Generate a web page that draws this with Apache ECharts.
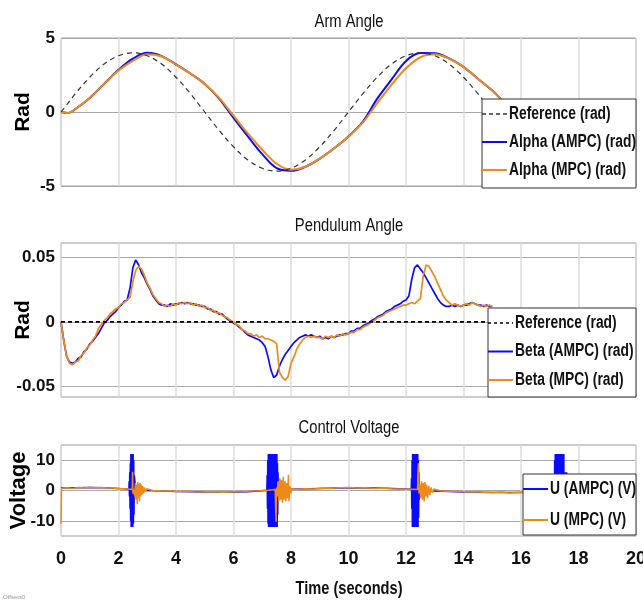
<!doctype html>
<html>
<head>
<meta charset="utf-8">
<title>Arm / Pendulum / Control Voltage</title>
<style>
html, body { margin: 0; padding: 0; background: #fff; }
#main { width: 643px; height: 602px; }
</style>
</head>
<body>
<div id="main"></div>
<script src="https://cdn.jsdelivr.net/npm/echarts@6/dist/echarts.min.js"></script>
<script>
var SANS = "'Liberation Sans', Arial, sans-serif";
var BLUE = '#0a0aff';
var ORANGE = '#ec8b1a';

// ---- Arm angle (rad) ----
var armTime = [0, 0.25, 0.5, 1, 1.5, 2, 2.5, 3, 3.5, 4, 4.5, 5, 5.5, 6, 6.5, 7, 7.5, 8, 8.5, 9, 9.5,
    10, 10.5, 11, 11.5, 12, 12.5, 13, 13.5, 14, 14.5, 15, 15.5, 16, 16.5, 17, 17.5];
var armRef = [0, 0.62, 1.24, 2.35, 3.24, 3.80, 4.00, 3.80, 3.24, 2.35, 1.24, 0, -1.24, -2.35, -3.24, -3.80, -4.00,
    -3.80, -3.24, -2.35, -1.24, 0, 1.24, 2.35, 3.24, 3.80, 4.00, 3.80, 3.24, 2.35, 1.24, 0, -1.24, -2.35, -3.24, -3.80, -4.00];
var armAmpc = [0, -0.07, 0.2, 0.95, 1.9, 2.85, 3.6, 4.0, 3.78, 3.22, 2.6, 1.9, 0.9, -0.4, -1.65, -2.85, -3.8,
    -3.97, -3.7, -3.15, -2.45, -1.65, -0.65, 0.9, 2.2, 3.45, 3.98, 3.97, 3.62, 3.05, 2.25, 1.45, 0.45, -0.7, -1.9, -3.0, -3.7];
var armMpc = [0, -0.07, 0.2, 0.95, 1.9, 2.8, 3.45, 3.9, 3.75, 3.2, 2.6, 1.9, 0.95, -0.25, -1.45, -2.55, -3.5,
    -3.9, -3.7, -3.15, -2.45, -1.65, -0.7, 0.6, 1.85, 2.95, 3.7, 3.9, 3.6, 3.05, 2.25, 1.45, 0.45, -0.7, -1.9, -3.0, -3.7];

// ---- Pendulum angle (rad), sampled every 0.1 s from 0 to 15 s ----
var betaStep = 0.1;
var betaAmpc = [
    0, -0.015, -0.027, -0.031, -0.032, -0.031, -0.028, -0.027, -0.023, -0.021,
    -0.017, -0.015, -0.012, -0.009, -0.005, -0.001, 0.001, 0.004, 0.006, 0.008,
    0.011, 0.013, 0.016, 0.017, 0.026, 0.042, 0.048, 0.044, 0.038, 0.034,
    0.029, 0.025, 0.020, 0.017, 0.014, 0.013, 0.013, 0.012, 0.014, 0.013,
    0.014, 0.014, 0.015, 0.014, 0.015, 0.014, 0.014, 0.013, 0.013, 0.012,
    0.012, 0.010, 0.010, 0.008, 0.008, 0.006, 0.006, 0.004, 0.002, 0.001,
    -0.001, -0.002, -0.004, -0.006, -0.008, -0.010, -0.011, -0.012, -0.013, -0.014,
    -0.016, -0.019, -0.027, -0.037, -0.043, -0.041, -0.034, -0.029, -0.025, -0.022,
    -0.019, -0.016, -0.014, -0.012, -0.011, -0.010, -0.011, -0.010, -0.011, -0.012,
    -0.011, -0.013, -0.012, -0.013, -0.011, -0.012, -0.011, -0.010, -0.010, -0.009,
    -0.009, -0.007, -0.007, -0.005, -0.005, -0.003, -0.002, -0.001, 0.001, 0.002,
    0.004, 0.005, 0.006, 0.008, 0.009, 0.010, 0.012, 0.013, 0.014, 0.016,
    0.017, 0.020, 0.033, 0.042, 0.044, 0.041, 0.038, 0.034, 0.030, 0.026,
    0.022, 0.018, 0.015, 0.013, 0.012, 0.012, 0.013, 0.012, 0.013, 0.012,
    0.013, 0.013, 0.014, 0.015, 0.014, 0.013, 0.013, 0.012, 0.013, 0.012,
    0.012
];
var betaMpc = [
    0, -0.015, -0.027, -0.032, -0.033, -0.031, -0.030, -0.026, -0.024, -0.020,
    -0.018, -0.014, -0.011, -0.005, -0.002, 0.001, 0.003, 0.006, 0.008, 0.010,
    0.011, 0.014, 0.015, 0.017, 0.019, 0.031, 0.040, 0.043, 0.041, 0.036,
    0.030, 0.026, 0.021, 0.018, 0.015, 0.014, 0.012, 0.013, 0.012, 0.014,
    0.013, 0.015, 0.014, 0.015, 0.014, 0.015, 0.013, 0.014, 0.012, 0.013,
    0.011, 0.011, 0.009, 0.009, 0.007, 0.007, 0.005, 0.004, 0.003, 0.001,
    0.000, -0.002, -0.003, -0.006, -0.007, -0.009, -0.009, -0.011, -0.010, -0.012,
    -0.011, -0.013, -0.013, -0.014, -0.015, -0.017, -0.039, -0.043, -0.045, -0.042,
    -0.032, -0.027, -0.021, -0.017, -0.014, -0.012, -0.011, -0.012, -0.011, -0.012,
    -0.012, -0.013, -0.011, -0.012, -0.011, -0.012, -0.010, -0.011, -0.009, -0.010,
    -0.009, -0.008, -0.008, -0.006, -0.006, -0.004, -0.003, -0.002, 0.000, 0.001,
    0.003, 0.004, 0.005, 0.007, 0.008, 0.009, 0.010, 0.011, 0.012, 0.013,
    0.013, 0.014, 0.015, 0.014, 0.016, 0.018, 0.036, 0.044, 0.043, 0.039,
    0.035, 0.030, 0.025, 0.020, 0.017, 0.015, 0.013, 0.014, 0.013, 0.012,
    0.013, 0.014, 0.013, 0.015, 0.014, 0.013, 0.012, 0.013, 0.012, 0.013,
    0.012
];
var betaRef = [[0, 0], [17.5, 0]];

// ---- Control voltage (V) ----
var uAmpcBase = [[0, 0.8], [0.5, 0.9], [1.0, 1.0], [1.5, 0.9], [2.0, 0.7], [2.36, 0.4],
    [2.6, 0.2], [3.0, 0], [4.0, -0.3], [5.0, -0.5], [6.0, -0.6], [6.5, -0.4], [7.0, -0.1], [7.16, 0.1],
    [7.6, 0.3], [8.0, 0.4], [9.0, 0.7], [10.0, 0.9], [11.0, 0.8], [12.0, 0.5], [12.18, 0.4],
    [12.5, 0.1], [13.0, -0.2], [14.0, -0.5], [15.0, -0.7], [16.0, -0.7], [17.0, -0.3], [17.14, 0],
    [17.62, 0]];
// saturated bursts, one sample every 0.01 s from the start time
var burstStep = 0.01;
var burstStart = [2.37, 7.17, 12.19, 17.15];
var burst1 = [3, -2, 6, -6, 9, -10, 12, -12, 12, -12, 12, -12, 12, -12, 12, -11, 10, -8, 5];
var burst2 = [5, -6, 10, -11, 12, -12, 12, -12, 12, -12, 12, -12, 12, -12, 12, -12, 12, -12, 12, -12,
    12, -12, 12, -12, 12, -12, 12, -12, 12, -12, 12, -12, 12, -12, 12, -12, 9, -8, 6, -3];
var burst3 = [4, -6, 10, -12, 12, -12, 12, -12, 12, -12, 12, -12, 12, -12, 12, -12, 12, -12, 12, -12,
    12, -12, 12, -12, 10, -9, 6, -3];
var burst4 = [4, -6, 10, -12, 12, -12, 12, -12, 12, -12, 12, -12, 12, -12, 12, -12, 12, -12, 12, -12,
    12, -12, 12, -12, 12, -12, 12, -12, 12, -12, 12, -12, 12, -12, 12, -12,
    6, -6, 6, -6, 6, -6, 6, -6, 6, -6];
var uMpc = [[0, -11], [0.02, 0.7], [0.2, 0.9], [0.4, 0.7], [0.6, 1.0], [0.8, 0.8], [1.0, 1.1], [1.2, 0.9],
    [1.4, 1.0], [1.6, 0.8], [1.8, 0.8], [2.0, 0.6], [2.2, 0.6], [2.4, 0.4], [2.48, 0.3], [2.49, 6.2],
    [2.50, -1], [2.52, 0.5], [2.55, 1], [2.57, -2], [2.59, 2.5], [2.61, -3], [2.63, 2], [2.65, -4.5],
    [2.67, 2.8], [2.69, -2.5], [2.71, 2.2], [2.73, -3.5], [2.75, 2.5], [2.77, -2], [2.79, 2], [2.81, -1.5],
    [2.84, 1.5], [2.87, -1], [2.90, 1], [2.94, -0.5], [2.98, 0.6], [3.03, 0], [3.2, 0.0], [3.4, -0.1],
    [3.6, -0.2], [3.8, -0.1], [4.0, -0.3], [4.3, -0.2], [4.6, -0.4], [5.0, -0.5], [5.3, -0.4], [5.6, -0.6],
    [6.0, -0.5], [6.3, -0.4], [6.6, -0.2], [6.9, -0.1], [7.2, 0.1], [7.45, 0.3], [7.48, -10.3], [7.50, 1],
    [7.52, -2], [7.55, 3], [7.58, -3.5], [7.61, 4], [7.64, -3], [7.67, 3.5], [7.70, -4], [7.73, 4.5],
    [7.76, -3], [7.79, 3], [7.82, -3.5], [7.85, 2.5], [7.88, -2.5], [7.91, 5.2], [7.93, -3.5], [7.96, 1.5],
    [7.99, -1], [8.03, 0.5], [8.2, 0.4], [8.5, 0.6], [8.8, 0.5], [9.1, 0.8], [9.4, 0.7], [9.7, 0.9],
    [10.0, 1.0], [10.3, 0.8], [10.6, 0.9], [10.9, 0.7], [11.2, 0.8], [11.5, 0.6], [11.8, 0.5], [12.1, 0.4],
    [12.4, 0.3], [12.43, 9], [12.45, -1], [12.48, 2], [12.51, -2.5], [12.54, 3], [12.57, -3], [12.60, 2.5],
    [12.63, -3.5], [12.66, 2.8], [12.69, -2], [12.72, 2], [12.75, -2.5], [12.79, 1.5], [12.83, -1.5],
    [12.87, 1], [12.92, -0.8], [12.97, 0.5], [13.02, 0], [13.2, -0.1], [13.5, -0.3], [13.8, -0.2],
    [14.1, -0.5], [14.4, -0.4], [14.7, -0.6], [15.0, -0.7], [15.3, -0.5], [15.6, -0.8], [16.0, -0.6],
    [16.5, -0.5], [17.0, -0.3], [17.5, 0]];

var armNames = ['Reference (rad)', 'Alpha (AMPC) (rad)', 'Alpha (MPC) (rad)'];
var betaNames = ['Reference (rad)', 'Beta (AMPC) (rad)', 'Beta (MPC) (rad)'];
var voltNames = ['U (AMPC) (V)', 'U (MPC) (V)'];

function zip(t, v) {
    return v.map(function (y, i) { return [t[i], y]; });
}
function stepped(dt, v) {
    return v.map(function (y, i) { return [+(i * dt).toFixed(3), y]; });
}
function withBursts(base) {
    var pts = base.slice();
    [burst1, burst2, burst3, burst4].forEach(function (b, k) {
        b.forEach(function (y, i) {
            pts.push([+(burstStart[k] + i * burstStep).toFixed(3), y]);
        });
    });
    pts.sort(function (a, b) { return a[0] - b[0]; });
    return pts;
}

var chart = echarts.init(document.getElementById('main'));

function timeAxis(gi, showLabels) {
    return {
        type: 'value', gridIndex: gi, min: 0, max: 20, interval: 2,
        axisLine: { show: false }, axisTick: { show: false },
        axisLabel: {
            show: showLabels, margin: 14, color: '#111',
            fontFamily: SANS, fontWeight: 'bold', fontSize: 18
        },
        splitLine: { show: true, lineStyle: { color: '#dcdcdc', width: 1.5 } }
    };
}

function valueAxis(gi, min, max, ticks, name, nameSize, nameGap) {
    return {
        type: 'value', gridIndex: gi, min: min, max: max,
        axisLine: { show: false },
        axisTick: { show: false, customValues: ticks },
        axisLabel: {
            customValues: ticks, margin: 6, color: '#111',
            fontFamily: SANS, fontWeight: 'bold', fontSize: 17
        },
        splitLine: { show: true, lineStyle: { color: '#a8a8a8', width: 1 } },
        name: name, nameLocation: 'middle', nameGap: nameGap, nameMoveOverlap: false,
        nameTextStyle: { fontFamily: SANS, fontWeight: 'bold', fontSize: nameSize, color: '#000' }
    };
}

function line(name, gi, data, color, width, dash, smooth) {
    return {
        type: 'line', name: name, xAxisIndex: gi, yAxisIndex: gi,
        data: data, showSymbol: false, symbol: 'none', smooth: smooth || false,
        lineStyle: { color: color, width: width, type: dash || 'solid' },
        itemStyle: { color: color },
        animation: false, silent: true
    };
}

// condensed text (the figure uses a narrow face), drawn as a graphic with a horizontal squeeze
function narrowText(x, y, text, size, weight, align, squeeze) {
    return {
        type: 'text', x: x, y: y, scaleX: squeeze, z: 110,
        style: {
            text: text, font: weight + ' ' + size + 'px ' + SANS, fill: '#111',
            textAlign: align, textVerticalAlign: 'middle', align: align, verticalAlign: 'middle'
        }
    };
}

// legend box: white panel, line sample and label per row
function legendBox(x0, y0, w, h, firstRow, rowStep, names, colors, dashes) {
    var els = [{
        type: 'rect', z: 100,
        shape: { x: x0, y: y0, width: w, height: h },
        style: { fill: '#fff', stroke: '#333', lineWidth: 1 }
    }];
    names.forEach(function (n, i) {
        var cy = firstRow + i * rowStep;
        els.push({
            type: 'line', z: 105,
            shape: { x1: x0, y1: cy, x2: x0 + 25, y2: cy },
            style: { stroke: colors[i], lineWidth: dashes[i] ? 1.5 : 2, lineDash: dashes[i] || null }
        });
        els.push(narrowText(x0 + 27, cy, n, 18, 'bold', 'left', 0.77));
    });
    return els;
}

var gridBase = { left: 61, right: 7, show: true, borderColor: '#9a9a9a', borderWidth: 1, outerBoundsMode: 'none' };

chart.setOption({
    animation: false,
    grid: [
        Object.assign({ top: 38, height: 148 }, gridBase),
        Object.assign({ top: 243, height: 154 }, gridBase),
        Object.assign({ top: 445, height: 91 }, gridBase)
    ],
    xAxis: [timeAxis(0, false), timeAxis(1, false), timeAxis(2, true)],
    yAxis: [
        valueAxis(0, -5, 5, [-5, 0, 5], 'Rad', 21, 27),
        valueAxis(1, -0.058, 0.061, [-0.05, 0, 0.05], 'Rad', 21, 27),
        valueAxis(2, -15, 15, [-10, 0, 10], 'Voltage', 22, 31)
    ],
    series: [
        line(armNames[1], 0, zip(armTime, armAmpc), BLUE, 2, null, 0.35),
        line(armNames[2], 0, zip(armTime, armMpc), ORANGE, 2, null, 0.35),
        line(armNames[0], 0, zip(armTime, armRef), '#333', 1.2, [5, 4], 0.35),

        line(betaNames[1], 1, stepped(betaStep, betaAmpc), BLUE, 1.7),
        line(betaNames[2], 1, stepped(betaStep, betaMpc), ORANGE, 1.7),
        line(betaNames[0], 1, betaRef, '#000', 1.8, [4, 3]),

        line(voltNames[0], 2, withBursts(uAmpcBase), BLUE, 1.5),
        line(voltNames[1], 2, uMpc, ORANGE, 1.5)
    ],
    graphic: [].concat(
        [
            narrowText(349, 22, 'Arm Angle', 18, 'normal', 'center', 0.82),
            narrowText(349, 226, 'Pendulum Angle', 18, 'normal', 'center', 0.82),
            narrowText(349, 428, 'Control Voltage', 18, 'normal', 'center', 0.82),
            narrowText(349, 589, 'Time (seconds)', 19, 'bold', 'center', 0.77),
            { type: 'text', x: 3, y: 594, style: { text: 'Offsets0', font: '6px ' + SANS, fill: '#999' } }
        ],
        legendBox(482, 99, 154, 89, 114, 28, armNames, ['#333', BLUE, ORANGE], [[4, 3], null, null]),
        legendBox(488, 308, 148, 89, 323, 28.5, betaNames, ['#000', BLUE, ORANGE], [[3, 3], null, null]),
        legendBox(523, 474, 113, 61, 489, 31, voltNames, [BLUE, ORANGE], [null, null])
    )
});

window.onresize = chart.resize;
</script>
</body>
</html>
